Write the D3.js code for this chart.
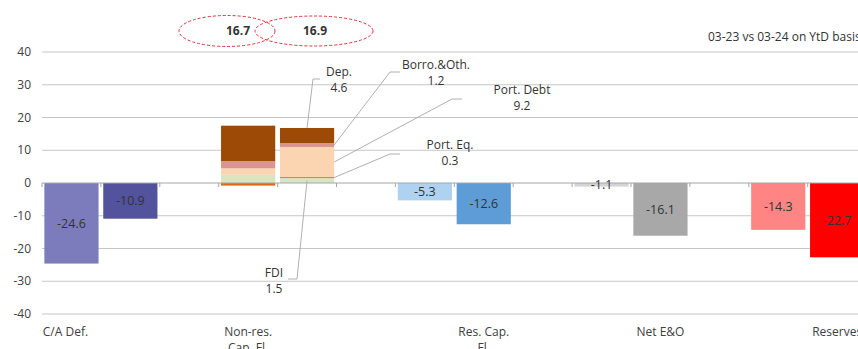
<!DOCTYPE html>
<html><head><meta charset="utf-8">
<script src="https://cdn.jsdelivr.net/npm/d3@7"></script>
<style>
html,body{margin:0;padding:0;background:#fff;overflow:hidden}
text{font-family:"Open Sans",sans-serif}
</style></head>
<body><svg id="c" width="858" height="349"></svg>
<script>
// ---- data ----
const slots = ["ca1","ca2","g1","nr1","nr2","g2","rc1","rc2","g3","eo1","eo2","g4","rs1","rs2","g5"];
const slotLabels = {"ca1":"C/A Def.","nr1":"Non-res.\nCap. Fl.","rc2":"Res. Cap.\nFl.","eo2":"Net E&O","rs2":"Reserves"};
const simpleKeys = ["ca1","ca2","rc1","rc2","eo1","eo2","rs1","rs2"];
const simpleValues = [-24.6,-10.9,-5.3,-12.6,-1.1,-16.1,-14.3,-22.7];
const simpleColors = ["#7c7cbc","#52529d","#aed2ef","#5d9cd6","#d4d4d4","#a8a8a8","#ff8585","#ff0000"];
const components = ["FDI","Port. Eq.","Port. Debt","Borro.&Oth.","Dep."];
const compColors = ["#d9e5c2","#e0691a","#fbd4b2","#da9590","#9e4a07"];
const nr2023 = [2.5,-0.8,2.0,2.2,10.8];
const nr2024 = [1.5,0.3,9.2,1.2,4.6];
const totals = [16.7,16.9];
const yTicks = [-40,-30,-20,-10,0,10,20,30,40];
const title = "03-23 vs 03-24 on YtD basis";

// ---- layout ----
const svg = d3.select("#c");
const x = d3.scaleBand().domain(slots).range([42,925.5]).paddingInner(0.08).paddingOuter(0.04);
const y = d3.scaleLinear().domain([-40,40]).range([314,52]);

// gridlines
svg.append("g").selectAll("line").data(yTicks.filter(d=>d!==0)).join("line")
  .attr("x1",42).attr("x2",858).attr("y1",d=>y(d)).attr("y2",d=>y(d))
  .attr("stroke","#c6c6c6").attr("stroke-width",1);
// y labels
svg.append("g").selectAll("text").data(yTicks).join("text")
  .attr("x",31).attr("y",d=>y(d)).attr("dy","0.35em").attr("text-anchor","end")
  .attr("font-size",12).attr("fill","#404040").text(d=>d);

// simple bars
const sb = simpleKeys.map((k,i)=>({k,v:simpleValues[i],c:simpleColors[i]}));
svg.append("g").selectAll("rect").data(sb).join("rect")
  .attr("x",d=>x(d.k)).attr("width",x.bandwidth())
  .attr("y",d=>y(Math.max(0,d.v))).attr("height",d=>Math.abs(y(d.v)-y(0)))
  .attr("fill",d=>d.c);

// stacked bars
const rows = [{key:"nr1"},{key:"nr2"}];
components.forEach((c,i)=>{rows[0][c]=nr2023[i];rows[1][c]=nr2024[i];});
const stack = d3.stack().keys(components).offset(d3.stackOffsetDiverging)(rows);
const sg = svg.append("g");
stack.forEach((layer,li)=>{
  sg.selectAll(null).data(layer).join("rect")
    .attr("x",d=>x(d.data.key)).attr("width",x.bandwidth())
    .attr("y",d=>y(Math.max(d[0],d[1]))).attr("height",d=>Math.abs(y(d[0])-y(d[1])))
    .attr("fill",compColors[li]);
});

// zero axis + ticks
svg.append("line").attr("x1",42).attr("x2",858).attr("y1",y(0)).attr("y2",y(0))
  .attr("stroke","#a6a6a6");
const step = x.step();
const bounds = d3.range(slots.length+1).map(i=>x.range()[0]+i*step);
svg.append("g").selectAll("line").data(bounds.filter(b=>b<858)).join("line")
  .attr("x1",d=>d).attr("x2",d=>d).attr("y1",y(0)).attr("y2",y(0)+4).attr("stroke","#a6a6a6");

// value labels simple bars
svg.append("g").selectAll("text").data(sb).join("text")
  .attr("x",d=>x(d.k)+x.bandwidth()/2).attr("y",d=>(y(d.v)+y(0))/2).attr("dy","0.35em")
  .attr("text-anchor","middle").attr("font-size",12.5).attr("fill","#333").text(d=>d.v);

// category labels
const cl = svg.append("g");
Object.entries(slotLabels).forEach(([k,t])=>{
  const cx = x(k)+x.bandwidth()/2 - (k==="ca1"?6:0);
  const tx = cl.append("text").attr("x",cx).attr("y",332).attr("text-anchor","middle")
    .attr("font-size",12).attr("fill","#404040");
  t.split("\n").forEach((s,i)=>tx.append("tspan").attr("x",cx).attr("dy",i?16:"0.35em").text(s));
});

// callouts for 2024 stack
const bx = x("nr2"), bw = x.bandwidth();
const seg = components.map((c,i)=>{const d=stack[i][1];return {c,v:nr2024[i],lo:d[0],hi:d[1]};});
const callouts = [
  {i:4, tx:339, ty:72, ax:bx+bw/2, ay:y(seg[4].hi), path:[[320,79],[313,79]]},
  {i:3, tx:436, ty:65, ax:bx+bw, ay:y((seg[3].lo+seg[3].hi)/2), path:[[400,72],[390,72]]},
  {i:2, tx:522, ty:90, ax:bx+bw, ay:y((seg[2].lo+seg[2].hi)/2), path:[[462,99],[452,99]]},
  {i:1, tx:450, ty:145, ax:bx+bw, ay:y((seg[1].lo+seg[1].hi)/2), path:[[400,154],[390,154]]},
  {i:0, tx:274, ty:273, ax:bx+bw/2, ay:y((seg[0].lo+seg[0].hi)/2), path:[[288,279],[297,279]]}
];
const cg = svg.append("g");
callouts.forEach(o=>{
  const pts = o.path.concat([[o.ax,o.ay]]);
  cg.append("path").attr("d",d3.line()(pts)).attr("fill","none").attr("stroke","#b0b0b0").attr("stroke-width",1);
  const t = cg.append("text").attr("text-anchor","middle").attr("font-size",12).attr("fill","#333");
  t.append("tspan").attr("x",o.tx).attr("y",o.ty).attr("dy","0.35em").text(components[o.i]);
  t.append("tspan").attr("x",o.tx).attr("dy",16).text(seg[o.i].v);
});

// total ellipses
const ell = [{cx:227,cy:31,rx:48,ry:15.5,tx:238},{cx:314,cy:31,rx:59,ry:15,tx:315}];
ell.forEach((e,i)=>{
  svg.append("ellipse").attr("cx",e.cx).attr("cy",e.cy).attr("rx",e.rx).attr("ry",e.ry)
    .attr("fill","none").attr("stroke","#e0303a").attr("stroke-dasharray","3,2").attr("stroke-width",1);
  svg.append("text").attr("x",e.tx).attr("y",e.cy).attr("dy","0.35em").attr("text-anchor","middle")
    .attr("font-size",12).attr("font-weight","bold").attr("fill","#333").text(totals[i]);
});

// title
svg.append("text").attr("x",708).attr("y",37).attr("dy","0.35em").attr("font-size",12)
  .attr("fill","#333").text(title);
</script></body></html>
